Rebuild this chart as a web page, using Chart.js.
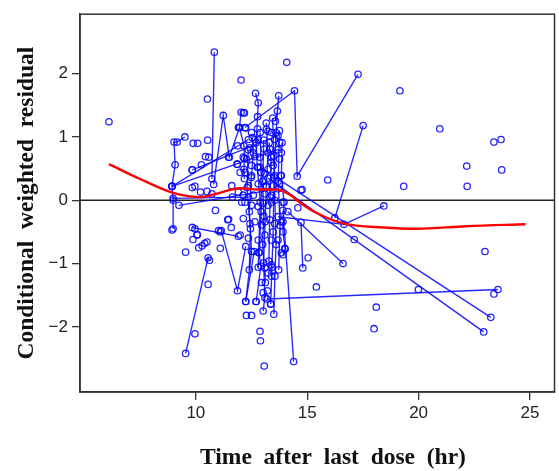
<!DOCTYPE html>
<html>
<head>
<meta charset="utf-8">
<script src="https://cdn.jsdelivr.net/npm/chart.js@4.4.2/dist/chart.umd.min.js"></script>
<style>
  html, body { margin: 0; padding: 0; background: #fff; }
</style>
</head>
<body>
<canvas id="chart" width="559" height="471"></canvas>
<script>
// Axis ticks
const xTicks = [10, 15, 20, 25];
const yTicks = [-2, -1, 0, 1, 2];

// Subjects whose observations are joined by lines: [time, CWRES]
const profilesLeft = [
  [[8.98, -0.45], [8.98, 0.0], [8.93, 0.22], [9.07, 0.56], [9.02, 0.92], [9.16, 0.92], [9.51, 1.0]],
  [[9.54, -2.42], [10.55, -0.91], [10.61, -0.95]],
  [[10.72, 0.34], [10.83, 2.34]],
  [[10.80, 0.25], [11.23, 1.34], [11.50, 0.68], [11.96, 1.15]],
  [[12.03, 1.39], [11.96, 1.15], [12.16, 0.86], [12.18, 0.66], [12.16, 0.49], [12.18, 0.34]],
  [[11.14, -0.48], [11.87, -1.43], [12.24, -0.73]],
  [[9.84, -0.43], [11.91, -0.57]],
  [[8.98, 0.03], [12.36, 0.05]]
];

const profilesCluster = [
  [[12.68, 1.69], [12.80, 1.54], [12.77, 1.32], [12.71, 0.91], [12.76, 0.52], [12.89, -0.03], [12.80, -1.06]],
  [[13.57, 1.25], [13.66, 1.41], [13.72, 1.65], [13.60, 1.07], [13.51, 0.36], [13.47, -0.50], [13.36, -1.64]],
  [[13.16, 1.22], [13.24, 0.75], [13.16, 0.21], [13.11, -0.34], [13.04, -0.99], [13.10, -1.54], [13.02, -1.75]],
  [[12.89, 1.07], [12.93, 0.44], [12.93, -0.18], [12.84, -0.83], [12.92, -1.04], [12.71, -1.60]],
  [[13.87, 0.91], [13.84, 0.39], [13.96, -0.03], [13.91, -0.50], [14.01, -0.77], [13.91, -0.86]],
  [[13.29, 0.91], [13.38, 0.60], [13.33, 0.05], [13.28, -0.96], [13.42, -1.06], [13.24, -1.15]],
  [[12.53, 0.99], [12.58, 0.75], [12.49, 0.36], [12.40, -0.18], [12.50, -0.81], [12.24, -1.60]],
  [[13.45, 1.30], [13.50, 0.70], [13.55, 0.0], [13.60, -0.70], [13.55, -1.20], [13.50, -1.80]],
  [[13.75, 1.10], [13.70, 0.30], [13.78, -0.40], [13.72, -1.10]],
  [[12.35, 0.80], [12.30, 0.20], [12.45, -0.45], [12.40, -1.10]],
  [[13.05, 0.95], [13.00, 0.30], [13.05, -0.25], [13.00, -0.70], [13.12, -1.30]],
  [[12.24, -1.60], [12.62, -0.81]],
  [[13.91, -0.16], [14.39, -2.55]],
  [[14.72, -0.35], [14.80, -1.07]]
];

const profilesLong = [
  [[8.93, 0.22], [12.36, 0.96]],
  [[8.93, 0.22], [13.69, 0.80]],
  [[9.84, 0.48], [13.69, 1.02]],
  [[9.24, -0.08], [13.69, 0.18]],
  [[12.21, 1.15], [14.43, 1.73], [14.55, 0.38], [17.28, 1.99]],
  [[17.51, 1.18], [16.24, -0.28]],
  [[13.69, -0.26], [16.65, -0.38], [18.44, -0.09]],
  [[12.89, 0.52], [23.24, -1.85]],
  [[13.24, 0.35], [22.92, -2.08]],
  [[13.19, -1.56], [23.56, -1.41]],
  [[14.13, -0.18], [16.61, -1.0]]
];

// Observations not joined to anything
const lonePointsLeft = [
  [6.10, 1.24], [10.52, 1.60], [12.03, 1.90], [12.18, 1.38], [12.24, 1.14],
  [9.88, 0.90], [10.08, 0.90], [10.53, 0.95], [9.84, 0.48], [10.25, 0.56],
  [10.43, 0.69], [10.58, 0.68], [11.87, 0.57], [11.85, 0.57], [11.88, 0.86], [11.47, 0.68],
  [9.84, 0.20], [9.96, 0.22], [10.21, 0.13], [10.50, 0.14], [10.72, 0.10],
  [11.91, 0.13], [11.61, 0.23], [11.64, 0.05], [9.96, -0.45], [10.06, -0.54],
  [9.54, -0.82], [10.13, -0.75], [10.28, -0.72], [10.40, -0.68], [10.50, -0.66],
  [10.55, -1.33], [9.96, -2.11], [11.10, -0.76], [11.47, -0.30], [11.59, -0.43],
  [11.02, -0.48], [10.88, -0.16], [11.10, -0.50], [11.43, -0.31], [8.93, -0.47],
  [9.87, -0.62], [10.06, -0.55]
];

const lonePointsCluster = [
  [12.13, 1.38], [11.91, 1.15], [12.77, 1.13], [12.50, 1.07], [12.65, 0.96],
  [12.80, 0.96], [12.43, 0.83], [12.58, 0.81], [13.17, 1.12], [13.24, 1.09],
  [13.39, 1.07], [13.54, 0.96], [13.07, 0.81], [13.32, 0.81], [13.76, 0.91],
  [13.84, 0.75], [12.13, 0.68], [12.28, 0.65], [12.65, 0.69], [12.88, 0.68],
  [13.39, 0.68], [13.76, 0.65], [12.50, 0.55], [12.80, 0.52], [13.24, 0.49],
  [13.47, 0.55], [11.99, 0.44], [12.21, 0.44], [12.50, 0.39], [13.10, 0.42],
  [13.54, 0.39], [13.81, 0.39], [12.36, 0.23], [12.80, 0.26], [13.17, 0.23],
  [13.47, 0.23], [13.76, 0.26], [12.13, 0.08], [12.58, 0.08], [13.10, 0.10],
  [13.39, 0.08], [12.06, -0.03], [12.21, -0.03], [12.50, -0.08], [12.80, -0.10],
  [13.02, -0.05], [13.24, -0.08], [13.39, -0.03], [12.13, -0.29], [12.43, -0.37],
  [12.65, -0.34], [12.95, -0.39], [13.32, -0.31], [13.54, -0.37], [13.84, -0.34],
  [11.99, -0.55], [12.36, -0.60], [12.80, -0.63], [13.10, -0.55], [13.39, -0.63],
  [13.69, -0.63], [12.83, -0.82], [13.99, -0.76], [13.84, -0.83], [13.10, -1.07],
  [13.39, -1.20], [13.39, -1.02], [13.21, -1.43], [12.95, -1.30], [13.02, -1.46],
  [12.27, -1.82], [12.50, -1.82], [12.88, -2.07], [12.90, -2.22], [13.07, -2.62],
  [12.70, -1.60], [13.36, -1.64], [13.91, -0.03], [13.91, -0.34], [14.58, -0.12]
];

const lonePointsRight = [
  [14.08, 2.18], [19.16, 1.73], [20.95, 1.13], [23.38, 0.92], [23.70, 0.96],
  [22.16, 0.54], [23.73, 0.48], [19.33, 0.22], [22.18, 0.22], [15.92, 0.32],
  [14.77, 0.17], [14.72, 0.16], [17.11, -0.62], [22.98, -0.81], [19.99, -1.41],
  [23.38, -1.48], [15.04, -0.91], [15.41, -1.37], [18.10, -1.69], [18.00, -2.03]
];

// Smoother through the residuals
const smoothX = [6.1, 7.47, 8.95, 10.13, 10.9, 11.6, 12.0, 12.8, 13.6, 14.0, 14.3, 14.65, 15.47, 16.65, 18.43, 19.9, 22.13, 24.8];
const smoothY = [0.57, 0.34, 0.12, 0.05, 0.10, 0.17, 0.19, 0.17, 0.17, 0.13, 0.07, -0.03, -0.21, -0.37, -0.43, -0.45, -0.41, -0.38];

const xTitle = 'Time  after  last  dose  (hr)';
const yTitle = 'Conditional  weighted  residual';

const blue = 'rgba(0, 0, 255, 0.85)';
const toXY = p => ({ x: p[0], y: p[1] });

const pointStyle = {
  pointRadius: 3.2,
  pointHoverRadius: 3.2,
  pointBorderColor: blue,
  pointBackgroundColor: 'rgba(0,0,0,0)',
  pointBorderWidth: 1.3
};

const datasets = [];

datasets.push({
  data: smoothX.map((x, i) => ({ x: x, y: smoothY[i] })),
  showLine: true,
  borderColor: '#ff0000',
  borderWidth: 2.4,
  pointRadius: 0,
  tension: 0.4,
  cubicInterpolationMode: 'monotone',
  order: 0
});

[...profilesLeft, ...profilesCluster, ...profilesLong].forEach(pts => {
  datasets.push(Object.assign({
    data: pts.map(toXY),
    showLine: true,
    borderColor: blue,
    borderWidth: 1.35,
    order: 1
  }, pointStyle));
});

datasets.push(Object.assign({
  data: [...lonePointsLeft, ...lonePointsCluster, ...lonePointsRight].map(toXY),
  showLine: false,
  order: 1
}, pointStyle));

const titleFont = { family: "'Liberation Serif', 'Times New Roman', serif", size: 23.5, weight: 'bold' };
const tickFont = { family: "'Liberation Sans', Arial, sans-serif", size: 17 };

// Zero reference line, box around the plot, and the x title
const framePlugin = {
  id: 'frame',
  beforeDatasetsDraw(chart) {
    const { ctx, chartArea: a, scales } = chart;
    const y0 = scales.y.getPixelForValue(0);
    ctx.save();
    ctx.strokeStyle = '#222';
    ctx.lineWidth = 1.4;
    ctx.beginPath();
    ctx.moveTo(a.left, y0);
    ctx.lineTo(a.right, y0);
    ctx.stroke();
    ctx.restore();
  },
  afterDraw(chart) {
    const { ctx, chartArea: a } = chart;
    ctx.save();
    ctx.strokeStyle = '#333';
    ctx.lineWidth = 1.5;
    ctx.strokeRect(a.left, a.top, a.right - a.left, a.bottom - a.top);
    ctx.fillStyle = '#111';
    ctx.font = 'bold ' + titleFont.size + 'px ' + titleFont.family;
    ctx.textAlign = 'center';
    ctx.textBaseline = 'middle';
    ctx.fillText(xTitle, 333, 458);
    ctx.restore();
  }
};

new Chart(document.getElementById('chart'), {
  type: 'scatter',
  data: { datasets: datasets },
  options: {
    responsive: false,
    animation: false,
    layout: { padding: { top: 10, right: 1, left: 0, bottom: 0 } },
    plugins: { legend: { display: false }, tooltip: { enabled: false } },
    scales: {
      x: {
        type: 'linear',
        min: 4.8,
        max: 26.1,
        afterBuildTicks: s => { s.ticks = xTicks.map(v => ({ value: v })); },
        afterFit: s => { s.height = 79; },
        ticks: { font: tickFont, color: '#222', padding: 3, maxRotation: 0 },
        grid: { drawOnChartArea: false, drawTicks: true, tickLength: 8, color: '#333', lineWidth: 1.3 },
        border: { display: true, color: '#333', width: 1.5 }
      },
      y: {
        type: 'linear',
        min: -3.03,
        max: 2.94,
        afterBuildTicks: s => { s.ticks = yTicks.map(v => ({ value: v })); },
        afterFit: s => { s.width = 80; },
        ticks: {
          font: tickFont,
          color: '#222',
          padding: 4,
          callback: v => (v < 0 ? '\u2212' + Math.abs(v) : String(v))
        },
        grid: { drawOnChartArea: false, drawTicks: true, tickLength: 8, color: '#333', lineWidth: 1.3 },
        border: { display: true, color: '#333', width: 1.5 },
        title: { display: true, text: yTitle, font: titleFont, color: '#111', padding: { top: 13, bottom: 0 } }
      }
    }
  },
  plugins: [framePlugin]
});
</script>
</body>
</html>
